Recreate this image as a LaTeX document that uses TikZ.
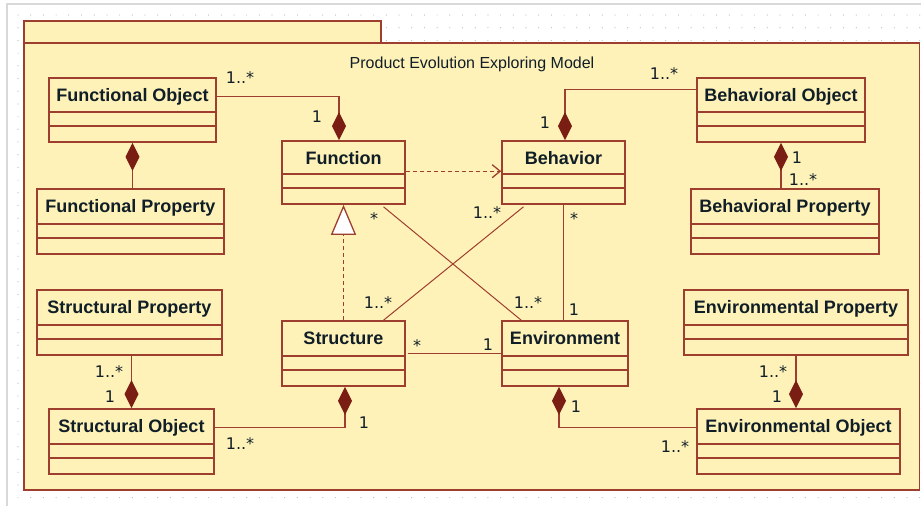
\documentclass[tikz,border=0pt]{standalone}
\usepackage{fontspec}
\setmainfont{Liberation Sans}
\newfontfamily\lblfont{DejaVu Sans}
\usetikzlibrary{arrows.meta,calc}
\definecolor{brd}{RGB}{158,62,46}
\definecolor{dia}{RGB}{122,30,20}
\definecolor{pkg}{RGB}{255,242,184}
\definecolor{txt}{RGB}{16,30,40}
\definecolor{dotc}{RGB}{185,185,185}
\definecolor{frm}{RGB}{216,216,216}
\tikzset{
 cls/.style={draw=brd, fill=pkg, line width=1.6pt, rectangle, inner sep=0pt},
 cpt/.style={draw=brd, line width=1.6pt},
 clsname/.style={font=\bfseries\fontsize{18}{20}\selectfont, text=txt, inner sep=0pt, anchor=base},
 ttl/.style={font=\fontsize{16}{18}\selectfont, text=txt, inner sep=0pt, anchor=base},
 lbl/.style={font=\lblfont\fontsize{16}{18}\selectfont, text=txt, inner sep=0pt, anchor=base},
 conn/.style={draw=brd, line width=1.3pt},
 thinconn/.style={draw=brd, line width=1pt},
 comp/.style={conn, -{Diamond[length=28pt,width=14pt,color=dia,fill=dia]}},
 gen/.style={conn, dashed, dash pattern=on 4pt off 3pt, -{Triangle[length=30pt,width=25pt,fill=white]}},
 dep/.style={conn, dash pattern=on 4pt off 3pt, -{Straight Barb[length=8pt,width=13pt]}},
}
\newcommand\umlclass[8]{%
 \node[cls, minimum width={#4-#2}, minimum height={#5-#3}] (#1) at ({(#2+#4)/2},{(#3+#5)/2}) {};
 \draw[cpt] (#2,#6) -- (#4,#6) (#2,#7) -- (#4,#7);
 \node[clsname] (#1-t) at ({(#2+#4)/2},{#3+23}) {#8};
}
\begin{document}
\begin{tikzpicture}[x=1pt,y=-1pt]
\useasboundingbox (0,0) rectangle (921,506);
% dot grid
\foreach \i in {0,...,71}{
  \foreach \j in {0,...,38}{
    \fill[dotc] ({18+12.7*\i},{15+12.7*\j}) circle (0.6);
  }
}
\draw[frm, line width=2pt] (7,506) -- (7,4) -- (921,4);
% package
\draw[cpt, fill=pkg] (24,43) rectangle (381,21);
\draw[cpt, fill=pkg] (24,43) rectangle (919.5,490);
\node[ttl] (title) at (472,68) {Product Evolution Exploring Model};
% classes
\umlclass{fo}{49}{78}{216}{142}{112}{126}{Functional Object}
\umlclass{fp}{37}{189}{224}{254}{224}{238}{Functional Property}
\umlclass{fn}{282}{141}{405}{204}{174}{188}{Function}
\umlclass{beh}{502}{141}{625}{204}{174}{188}{Behavior}
\umlclass{bo}{697}{78}{865}{142}{112}{126}{Behavioral Object}
\umlclass{bp}{691}{189}{879}{254}{224}{238}{Behavioral Property}
\umlclass{str}{282}{321}{405}{386}{356}{370}{Structure}
\umlclass{env}{502}{321}{628}{386}{356}{370}{Environment}
\umlclass{sp}{37}{290}{222}{355}{325}{339}{Structural Property}
\umlclass{so}{49}{409}{214}{474}{444}{458}{Structural Object}
\umlclass{ep}{684}{290}{908}{355}{325}{339}{Environmental Property}
\umlclass{eo}{697}{409}{900}{474}{444}{458}{Environmental Object}
% connectors
\draw[comp] ($(fo.north east)+(0,19)$) -| ($(fn.north)+(-4.5,0)$);
\draw[comp] (fp.north -| fo.south) -- (fo.south);
\draw[comp] ($(bo.north west)+(0,12)$) -| ($(beh.north)+(1.5,0)$);
\draw[comp] (bp.north -| bo.south) -- (bo.south);
\draw[dep] ($(fn.north east)+(0,31)$) -- ($(beh.north west)+(0,31)$);
\draw[gen] (str.north) -- (fn.south);
\draw[thinconn] ($(fn.south)+(40,2)$) -- ($(env.north west)+(20,0)$);
\draw[thinconn] ($(beh.south)+(-40,2)$) -- ($(str.north)+(40,0)$);
\draw[conn] (beh.south) -- (beh.south |- env.north);
\draw[conn] ($(str.east)+(2,0)$) -- (env.west);
\draw[comp] (sp.south -| so.north) -- (so.north);
\draw[comp] ($(so.north east)+(0,19)$) -| ($(str.south)+(1.5,0)$);
\draw[comp] (ep.south) -- (ep.south |- eo.north);
\draw[comp] ($(eo.north west)+(0,19)$) -| ($(env.south)+(-6,0)$);
% multiplicities
\node[lbl] (m1) at (240,83) {1..*};
\node[lbl] (m2) at (317,122) {1};
\node[lbl] (m3) at (664,79) {1..*};
\node[lbl] (m4) at (545,128) {1};
\node[lbl] (m5) at (797,163) {1};
\node[lbl] (m6) at (803,185) {1..*};
\node[lbl] (m7) at (374,224) {*};
\node[lbl] (m8) at (487,218) {1..*};
\node[lbl] (m9) at (574,224) {*};
\node[lbl] (m10) at (378,308) {1..*};
\node[lbl] (m11) at (528,308) {1..*};
\node[lbl] (m12) at (574,315) {1};
\node[lbl] (m13) at (417,351) {*};
\node[lbl] (m14) at (488,350) {1};
\node[lbl] (m15) at (109,377) {1..*};
\node[lbl] (m16) at (110,402) {1};
\node[lbl] (m17) at (364,428) {1};
\node[lbl] (m18) at (240,449) {1..*};
\node[lbl] (m19) at (773,377) {1..*};
\node[lbl] (m20) at (777,402) {1};
\node[lbl] (m21) at (576,412) {1};
\node[lbl] (m22) at (675,452) {1..*};
\end{tikzpicture}
\end{document}
